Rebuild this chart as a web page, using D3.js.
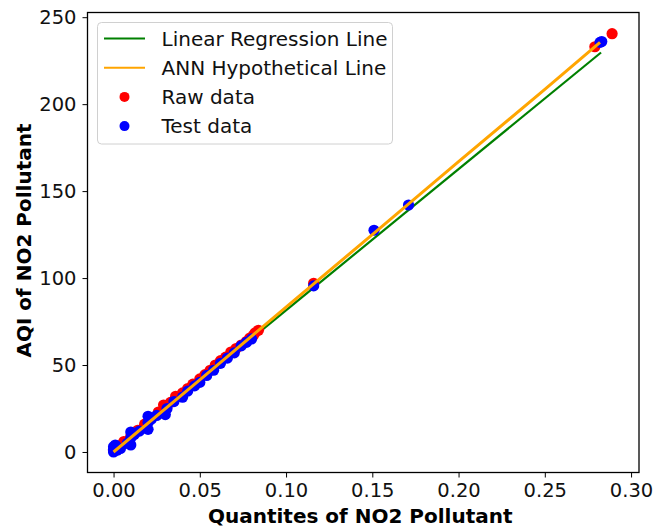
<!DOCTYPE html>
<html><head><meta charset="utf-8">
<script src="https://cdn.jsdelivr.net/npm/d3@7"></script>
<style>body{margin:0;background:#fff}svg{display:block}text{font-family:"DejaVu Sans",sans-serif}</style>
</head><body><svg id="c" width="654" height="532"></svg>
<script>
// Data
const rawX = [0.000,0.003,0.006,0.010,0.014,0.018,0.022,0.026,0.029,0.033,0.036,0.040,0.043,0.046,0.050,0.053,0.056,0.059,0.062,0.065,0.068,0.071,0.074,0.077,0.079,0.081,0.082,0.084,0.116,0.279,0.289];
const rawY = [1.0,3.5,6.0,9.0,12.5,16.0,19.5,23.0,27.0,28.5,32.0,34.0,36.5,39.0,42.0,44.5,47.0,50.0,52.5,54.5,57.5,59.5,61.5,63.5,65.5,67.0,68.5,70.0,97.0,233.0,240.5];
const testX = [0.000,0.000,0.000,0.001,0.002,0.004,0.008,0.010,0.010,0.010,0.012,0.015,0.020,0.020,0.020,0.022,0.025,0.030,0.031,0.035,0.040,0.043,0.047,0.050,0.054,0.058,0.062,0.066,0.070,0.074,0.077,0.080,0.116,0.151,0.171,0.282,0.283];
const testY = [0.0,1.5,3.0,4.0,1.0,2.0,5.0,4.0,8.0,11.5,10.0,12.0,13.0,17.0,20.5,19.0,21.0,21.5,25.0,29.0,31.5,35.0,38.0,40.0,44.0,47.0,51.0,54.0,57.0,61.0,63.0,65.0,95.5,127.5,142.0,235.5,236.0];
const linX = [0.000,0.2826];
const linY = [0.3,229.7];
const annX = [0.000,0.050,0.100,0.150,0.200,0.250,0.282];
const annY = [0.0,41.5,83.3,125.0,167.0,208.5,235.5];
const xTicks = [0.00,0.05,0.10,0.15,0.20,0.25,0.30];
const yTicks = [0,50,100,150,200,250];
const legendLabels = ["Linear Regression Line","ANN Hypothetical Line","Raw data","Test data"];

const L=87.5,R=639,T=12.5,B=472.5;
const svg=d3.select("#c");
const x=d3.scaleLinear().domain([-0.0151,0.3046]).range([L,R]);
const y=d3.scaleLinear().domain([-11.8,252.7]).range([B,T]);

// axes
const xa=svg.append("g").attr("transform",`translate(0,${B})`)
  .call(d3.axisBottom(x).tickValues(xTicks).tickFormat(d3.format(".2f")).tickSize(5).tickPadding(6));
const ya=svg.append("g").attr("transform",`translate(${L},0)`)
  .call(d3.axisLeft(y).tickValues(yTicks).tickSize(5).tickPadding(6));
[xa,ya].forEach(a=>{a.select(".domain").remove();a.selectAll("line").attr("stroke","#000").attr("stroke-width",1);a.selectAll("text").attr("font-size",19.5).attr("fill","#111").style("font-family","DejaVu Sans");});

// lines
const line=d3.line().x(d=>x(d[0])).y(d=>y(d[1]));
svg.append("path").datum(linX.map((v,i)=>[v,linY[i]])).attr("d",line).attr("fill","none").attr("stroke","#008000").attr("stroke-width",2.2);
// points
svg.append("g").selectAll("circle").data(rawX.map((v,i)=>[v,rawY[i]])).join("circle")
  .attr("cx",d=>x(d[0])).attr("cy",d=>y(d[1])).attr("r",5.6).attr("fill","#ff0000");
svg.append("g").selectAll("circle").data(testX.map((v,i)=>[v,testY[i]])).join("circle")
  .attr("cx",d=>x(d[0])).attr("cy",d=>y(d[1])).attr("r",5.6).attr("fill","#0000ff");
svg.append("path").datum(annX.map((v,i)=>[v,annY[i]])).attr("d",line).attr("fill","none").attr("stroke","#ffa500").attr("stroke-width",3);

// frame
svg.append("rect").attr("x",L).attr("y",T).attr("width",R-L).attr("height",B-T).attr("fill","none").attr("stroke","#000").attr("stroke-width",1.3);

// axis titles
svg.append("text").attr("x",(L+R)/2-3).attr("y",523).attr("text-anchor","middle").attr("font-size",20).attr("font-weight","bold").text("Quantites of NO2 Pollutant");
svg.append("text").attr("transform",`translate(31,${(T+B)/2-2}) rotate(-90)`).attr("text-anchor","middle").attr("font-size",20).attr("font-weight","bold").text("AQI of NO2 Pollutant");

// legend
const lg=svg.append("g");
lg.append("rect").attr("x",97.5).attr("y",22.5).attr("width",295).attr("height",121.5).attr("rx",4).attr("fill","#fff").attr("fill-opacity",0.8).attr("stroke","#d0d0d0");
const cols=["#008000","#ffa500","#ff0000","#0000ff"];
legendLabels.forEach((t,i)=>{
  const cy=38.5+i*29.2;
  if(i<2) lg.append("line").attr("x1",104).attr("x2",145).attr("y1",cy).attr("y2",cy).attr("stroke",cols[i]).attr("stroke-width",2);
  else lg.append("circle").attr("cx",124.5).attr("cy",cy).attr("r",5).attr("fill",cols[i]);
  lg.append("text").attr("x",161.5).attr("y",cy).attr("dy","0.36em").attr("font-size",20).attr("fill","#111").text(t);
});
</script></body></html>
